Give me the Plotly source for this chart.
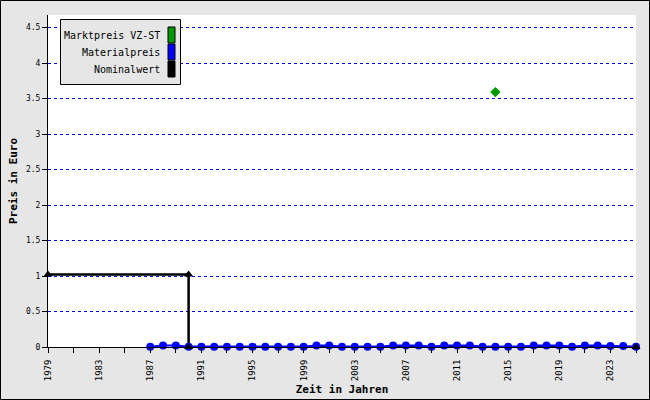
import plotly.graph_objects as go

# ---- data ----
market_name = "Marktpreis VZ-ST"
market_years = [2014]
market_values = [3.59]

material_name = "Materialpreis"
material_years = list(range(1987, 2026))
material_values = [0.005, 0.02, 0.02, 0.005, 0.005, 0.005, 0.005, 0.005, 0.005,
                   0.005, 0.005, 0.005, 0.005, 0.02, 0.02, 0.005, 0.005, 0.005,
                   0.005, 0.02, 0.02, 0.02, 0.005, 0.02, 0.02, 0.02, 0.005,
                   0.005, 0.005, 0.005, 0.02, 0.02, 0.02, 0.005, 0.02, 0.02,
                   0.015, 0.015, 0.005]

nominal_name = "Nominalwert"
nominal_years = [1979, 1990, 1990, 2025]
nominal_values = [1.02, 1.02, 0, 0]

x_tick_years = list(range(1979, 2026, 2))
x_tick_labels = [str(y) if (y - 1979) % 4 == 0 else "" for y in x_tick_years]
y_tick_vals = [0, 0.5, 1, 1.5, 2, 2.5, 3, 3.5, 4, 4.5]
y_tick_labels = ["0", "0.5", "1", "1.5", "2", "2.5", "3", "3.5", "4", "4.5"]

legend_names = [market_name, material_name, nominal_name]
legend_colors = ["#009900", "#0000ff", "#000000"]

# ---- layout geometry (pixels) ----
W, H = 650, 400
L, R, T, B = 48, 14, 15, 53
PW, PH = W - L - R, H - T - B

def px_x(x):
    return (x - L) / PW

def px_y(y):
    return (H - B - y) / PH

MONO = "DejaVu Sans Mono"

fig = go.Figure()

fig.add_trace(go.Scatter(x=nominal_years, y=nominal_values, mode="lines",
                         line=dict(color="#000000", width=2.5),
                         cliponaxis=False, showlegend=False, hoverinfo="skip"))
fig.add_trace(go.Scatter(x=material_years, y=material_values, mode="lines+markers",
                         line=dict(color="#0000ff", width=2),
                         marker=dict(color="#0000ff", size=8, symbol="circle"),
                         cliponaxis=False, showlegend=False, name=material_name))
fig.add_trace(go.Scatter(x=nominal_years, y=nominal_values, mode="markers",
                         marker=dict(color="#000000", size=8, symbol="triangle-up"),
                         cliponaxis=False, showlegend=False, name=nominal_name))
fig.add_trace(go.Scatter(x=market_years, y=market_values, mode="markers",
                         marker=dict(color="#009900", size=8, symbol="diamond"),
                         cliponaxis=False, showlegend=False, name=market_name))

shapes = []
annotations = []

# outer border
shapes.append(dict(type="rect", xref="paper", yref="paper",
                   x0=px_x(0.5), x1=px_x(W - 0.5), y0=px_y(H - 0.5), y1=px_y(0.5),
                   line=dict(color="#000000", width=1), fillcolor="rgba(0,0,0,0)",
                   layer="below"))

# legend box
shapes.append(dict(type="rect", xref="paper", yref="paper",
                   x0=px_x(60.5), x1=px_x(180.5), y0=px_y(84.5), y1=px_y(19.5),
                   line=dict(color="#000000", width=1), fillcolor="#e6e6e6"))
row_tops = [27, 44, 61]
for i, (name, col) in enumerate(zip(legend_names, legend_colors)):
    top = row_tops[i]
    shapes.append(dict(type="rect", xref="paper", yref="paper",
                       x0=px_x(168), x1=px_x(175), y0=px_y(top + 16), y1=px_y(top),
                       line=dict(color="#000000", width=1), fillcolor=col))
    annotations.append(dict(xref="paper", yref="paper", x=px_x(162), y=px_y(top + 8.5),
                            text=name, showarrow=False, xanchor="right", yanchor="middle",
                            font=dict(family=MONO, size=10, color="#000000")))

fig.update_layout(
    width=W, height=H,
    margin=dict(l=L, r=R, t=T, b=B, pad=0),
    paper_bgcolor="#e6e6e6",
    plot_bgcolor="#ffffff",
    shapes=shapes,
    annotations=annotations,
    showlegend=False,
    font=dict(family=MONO, size=8, color="#000000"),
    xaxis=dict(range=[1979, 2025], tickvals=x_tick_years, ticktext=x_tick_labels,
               tickangle=-90, ticks="outside", ticklen=5, tickcolor="#000000",
               ticklabelstandoff=3, automargin=False,
               showline=True, linecolor="#000000", linewidth=1,
               showgrid=False, zeroline=False,
               tickfont=dict(family=MONO, size=9),
               title=dict(text="<b>Zeit in Jahren</b>", font=dict(family=MONO, size=11),
                          standoff=5)),
    yaxis=dict(range=[0, 4.676], tickvals=y_tick_vals, ticktext=y_tick_labels,
               ticks="outside", ticklen=5, tickcolor="#000000", automargin=False,
               showline=True, linecolor="#000000", linewidth=1,
               showgrid=True, gridcolor="#0000ff", gridwidth=1, griddash="dot",
               zeroline=False,
               tickfont=dict(family=MONO, size=8),
               title=dict(text="<b>Preis in Euro</b>", font=dict(family=MONO, size=11),
                          standoff=6)),
)

fig.write_html("out.html", config={"displayModeBar": False},
               post_script="document.body.style.margin='0';document.body.style.padding='0';")
